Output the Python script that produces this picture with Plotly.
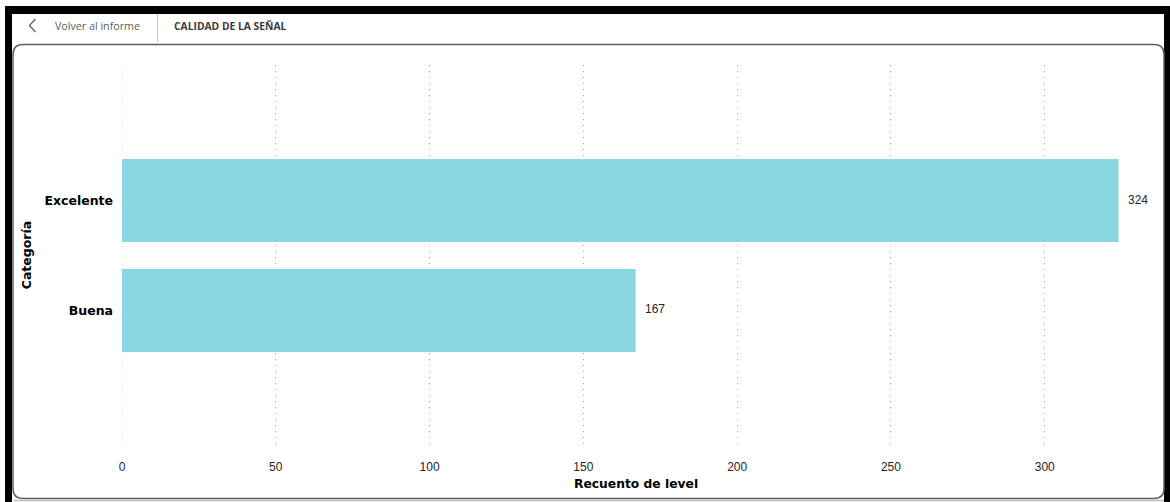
import plotly.graph_objects as go

# Signal quality counts
categorias = ["Buena", "Excelente"]
recuento = [167, 324]
x_ticks = [0, 50, 100, 150, 200, 250, 300]

W, H = 1170, 502
L, R, T, B = 122, 33, 65, 57
PW, PH = W - L - R, H - T - B
GRID_COLOR = "#A6A6A6"
GRID_DASH = "1px,5px"


def px(x):
    return (x - L) / PW


def py(y):
    return 1 - (y - T) / PH


fig = go.Figure(
    go.Bar(
        x=recuento,
        y=categorias,
        orientation="h",
        marker=dict(color="#8AD6E2", line=dict(width=0)),
        width=0.755,
        hoverinfo="x+y",
    )
)

shapes = []
# dotted gridline at the axis origin
shapes.append(dict(type="line", xref="x", yref="paper", x0=0, x1=0, y0=0, y1=1,
                   line=dict(color=GRID_COLOR, width=1, dash=GRID_DASH), layer="below"))
# outer black frame
shapes.append(dict(type="rect", xref="paper", yref="paper", x0=px(5), x1=px(1170), y0=py(14), y1=py(6),
                   fillcolor="black", line=dict(width=0), layer="below"))
shapes.append(dict(type="rect", xref="paper", yref="paper", x0=px(5), x1=px(12), y0=py(502), y1=py(6),
                   fillcolor="black", line=dict(width=0), layer="below"))
shapes.append(dict(type="rect", xref="paper", yref="paper", x0=px(1164), x1=px(1170), y0=py(502), y1=py(6),
                   fillcolor="black", line=dict(width=0), layer="below"))
# header divider
shapes.append(dict(type="line", xref="paper", yref="paper", x0=px(157.5), x1=px(157.5), y0=py(42), y1=py(14),
                   line=dict(color="#C8C6C4", width=1)))
# back chevron
shapes.append(dict(type="path", xref="paper", yref="paper",
                   path=f"M {px(35.5)},{py(19)} L {px(29.5)},{py(25.5)} L {px(35.5)},{py(32)}",
                   line=dict(color="#605E5C", width=1.3)))
# rounded panel border
r = 10
x0p, x1p, y0p, y1p = 13, 1164, 44.5, 498.5
path = (
    f"M {px(x0p)},{py(y0p + r)} Q {px(x0p)},{py(y0p)} {px(x0p + r)},{py(y0p)} "
    f"L {px(x1p - r)},{py(y0p)} Q {px(x1p)},{py(y0p)} {px(x1p)},{py(y0p + r)} "
    f"L {px(x1p)},{py(y1p - r)} Q {px(x1p)},{py(y1p)} {px(x1p - r)},{py(y1p)} "
    f"L {px(x0p + r)},{py(y1p)} Q {px(x0p)},{py(y1p)} {px(x0p)},{py(y1p - r)} Z"
)
shapes.append(dict(type="path", xref="paper", yref="paper", path=path,
                   line=dict(color="#605E5C", width=1.5), layer="below"))
# bottom shadow line
shapes.append(dict(type="line", xref="paper", yref="paper", x0=px(14), x1=px(1164), y0=py(500.5), y1=py(500.5),
                   line=dict(color="#BDBDBD", width=1.5)))

annotations = [
    dict(text="Volver al informe", x=px(53), y=py(26), xref="paper", yref="paper", showarrow=False,
         font=dict(family="Open Sans, Noto Sans", size=10.7, color="#605E5C"), xanchor="left", yanchor="middle"),
    dict(text="<b>CALIDAD DE LA SEÑAL</b>", x=px(172), y=py(26), xref="paper", yref="paper", showarrow=False,
         font=dict(family="Open Sans, Noto Sans", size=10.3, color="#3B3A39"), xanchor="left", yanchor="middle"),
    dict(text="<b>Recuento de level</b>", x=px(636), y=py(484), xref="paper", yref="paper", showarrow=False,
         font=dict(family="DejaVu Sans", size=12.3, color="black"), xanchor="center", yanchor="middle"),
]

# data labels placed just past the end of each bar
for cat, val in zip(categorias, recuento):
    annotations.append(dict(
        text=str(val), x=val, y=cat, xref="x", yref="y", showarrow=False,
        xanchor="left", yanchor="middle", xshift=7, yshift=1,
        font=dict(family="Liberation Sans, Arial", size=12, color="#252423"),
    ))

fig.update_layout(
    width=W,
    height=H,
    margin=dict(l=L, r=R, t=T, b=B),
    paper_bgcolor="white",
    plot_bgcolor="white",
    showlegend=False,
    shapes=shapes,
    annotations=annotations,
    xaxis=dict(
        range=[0, 330],
        tickvals=x_ticks,
        ticktext=[str(v) for v in x_ticks],
        showgrid=True,
        gridcolor=GRID_COLOR,
        griddash=GRID_DASH,
        gridwidth=1,
        zeroline=False,
        showline=False,
        ticks="",
        ticklabelstandoff=13,
        tickfont=dict(family="Liberation Sans, Arial", size=12, color="#252423"),
    ),
    yaxis=dict(
        categoryorder="array",
        categoryarray=categorias,
        range=[-1.223, 2.232],
        showgrid=False,
        zeroline=False,
        showline=False,
        ticks="",
        ticklabelstandoff=8,
        tickfont=dict(family="DejaVu Sans", size=12.5, color="black", weight="bold"),
        title=dict(text="<b>Categoría</b>", standoff=10,
                   font=dict(family="DejaVu Sans", size=12.5, color="black")),
    ),
)

fig.write_html("out.html")
